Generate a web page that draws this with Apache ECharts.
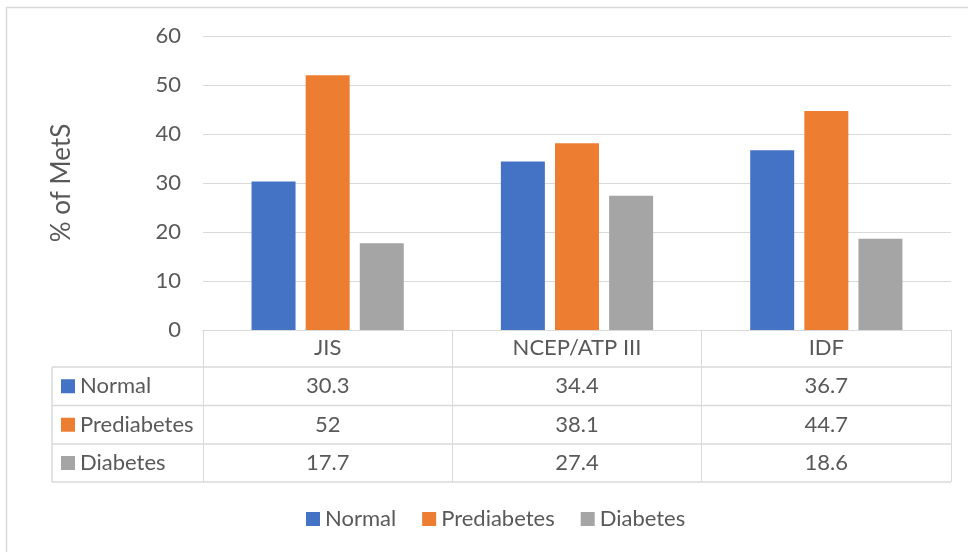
<!DOCTYPE html>
<html>
<head>
<meta charset="utf-8">
<script src="https://cdn.jsdelivr.net/npm/echarts@6/dist/echarts.min.js"></script>
<style>html,body{margin:0;padding:0;background:#fff;}#c{width:968px;height:552px;}</style>
</head>
<body>
<div id="c"></div>
<script>
const categories = ['JIS', 'NCEP/ATP III', 'IDF'];
const seriesNames = ['Normal', 'Prediabetes', 'Diabetes'];
const normal = [30.3, 34.4, 36.7];
const prediabetes = [52, 38.1, 44.7];
const diabetes = [17.7, 27.4, 18.6];
const tableLabels = [['30.3', '34.4', '36.7'], ['52', '38.1', '44.7'], ['17.7', '27.4', '18.6']];
const colors = ['#4472C4', '#ED7D31', '#A5A5A5'];
const yMin = 0, yMax = 60, yStep = 10;
const yName = '% of MetS';

const FONT = 'Lato';
const TXT = '#595959';
const LINE = '#D9D9D9';
const seriesData = [normal, prediabetes, diabetes];

const chart = echarts.init(document.getElementById('c'), null, {renderer: 'canvas'});
const option = {
  animation: false,
  textStyle: {fontFamily: FONT},
  grid: {left: 203, right: 17, top: 36, bottom: 222},
  legend: {
    data: seriesNames,
    left: 301, top: 503,
    itemWidth: 14, itemHeight: 14, itemGap: 26,
    icon: 'rect',
    textStyle: {fontFamily: FONT, fontSize: 22, color: TXT}
  },
  xAxis: {
    type: 'category',
    data: categories,
    axisLine: {lineStyle: {color: LINE, width: 1}},
    axisTick: {show: true, length: 152, lineStyle: {color: LINE, width: 1}},
    axisLabel: {fontFamily: FONT, fontSize: 22, color: TXT, margin: 7}
  },
  yAxis: {
    type: 'value',
    min: yMin, max: yMax, interval: yStep,
    name: yName,
    nameLocation: 'middle',
    nameGap: 128,
    nameTextStyle: {fontFamily: FONT, fontSize: 26, color: TXT},
    axisLine: {show: false},
    axisTick: {show: false},
    axisLabel: {fontFamily: FONT, fontSize: 22, color: TXT, margin: 22},
    splitLine: {lineStyle: {color: LINE, width: 1}}
  },
  series: seriesNames.map((n, i) => ({
    name: n,
    type: 'bar',
    data: seriesData[i],
    barWidth: 44,
    barGap: '23%',
    itemStyle: {color: colors[i]}
  }))
};
chart.setOption(option);

function buildTable() {
  const g = [];
  const c0 = chart.convertToPixel({xAxisIndex: 0}, 0);
  const c1 = chart.convertToPixel({xAxisIndex: 0}, 1);
  const band = c1 - c0;
  const xRight = chart.convertToPixel({xAxisIndex: 0}, categories.length - 1) + band / 2;
  const xLeft = 52;
  const rowLines = [367, 405.5, 444, 482];
  g.push({type: 'line', shape: {x1: 6, y1: 7.5, x2: 968, y2: 7.5}, style: {stroke: LINE, lineWidth: 1.5}, silent: true});
  g.push({type: 'line', shape: {x1: 6.5, y1: 7, x2: 6.5, y2: 552}, style: {stroke: LINE, lineWidth: 1.5}, silent: true});
  rowLines.forEach(y => {
    g.push({type: 'line', shape: {x1: xLeft, y1: y, x2: xRight, y2: y}, style: {stroke: LINE, lineWidth: 1.5}, silent: true});
  });
  g.push({type: 'line', shape: {x1: xLeft, y1: rowLines[0], x2: xLeft, y2: rowLines[3]}, style: {stroke: LINE, lineWidth: 1.5}, silent: true});
  seriesNames.forEach((n, i) => {
    const yc = (rowLines[i] + rowLines[i + 1]) / 2;
    g.push({type: 'rect', shape: {x: 61, y: yc - 7, width: 14, height: 14}, style: {fill: colors[i]}, silent: true});
    g.push({type: 'text', x: 80, y: yc, style: {text: n, fill: TXT, font: '22px ' + FONT, textAlign: 'left', textVerticalAlign: 'middle'}, silent: true});
    categories.forEach((cat, j) => {
      const xc = chart.convertToPixel({xAxisIndex: 0}, j);
      g.push({type: 'text', x: xc, y: yc, style: {text: tableLabels[i][j], fill: TXT, font: '22px ' + FONT, textAlign: 'center', textVerticalAlign: 'middle'}, silent: true});
    });
  });
  chart.setOption({graphic: g});
}
buildTable();
</script>
</body>
</html>
